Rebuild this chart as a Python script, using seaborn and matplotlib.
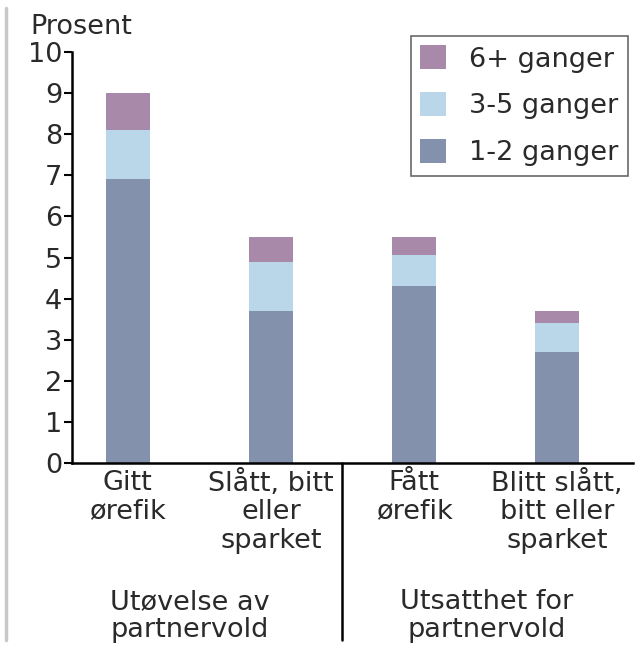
import matplotlib
matplotlib.use("Agg")
import matplotlib.pyplot as plt
from matplotlib.patches import Patch
from matplotlib.lines import Line2D
import seaborn as sns
import pandas as pd

categories = ["Gitt\nørefik", "Slått, bitt\neller\nsparket", "Fått\nørefik", "Blitt slått,\nbitt eller\nsparket"]
v12 = [6.9, 3.7, 4.3, 2.7]
v35 = [1.2, 1.2, 0.75, 0.7]
v6 = [0.9, 0.6, 0.45, 0.3]
series = ["6+ ganger", "3-5 ganger", "1-2 ganger"]
groups = ["Utøvelse av\npartnervold", "Utsatthet for\npartnervold"]
ylabel = "Prosent"

c12, c35, c6 = "#8491ac", "#b9d7e8", "#a889a9"
txt = "#2a2a2a"
fs = 19.5

sns.set_theme(style="white")
plt.rcParams["font.family"] = ["DejaVu Sans"]

df = pd.DataFrame({"cat": categories, "a": v12, "b": v35, "c": v6})
df["t2"] = df["a"] + df["b"]
df["t3"] = df["t2"] + df["c"]

fig = plt.figure(figsize=(6.36, 6.48), dpi=100)
ax = fig.add_axes([72 / 636, 185 / 648, 561 / 636, 411 / 648])

for col, c in [("t3", c6), ("t2", c35), ("a", c12)]:
    sns.barplot(data=df, x="cat", y=col, color=c, width=0.31, ax=ax,
                saturation=1, edgecolor="none", linewidth=0)

ax.set_ylim(0, 10)
ax.set_xlim(-0.39, 3.53)
ax.set_yticks(range(0, 11))
ax.set_xlabel("")
ax.set_ylabel("")
for s in ["top", "right"]:
    ax.spines[s].set_visible(False)
for s in ["left", "bottom"]:
    ax.spines[s].set_color("black")
    ax.spines[s].set_linewidth(1.8)
ax.tick_params(axis="y", length=6, width=1.5, color="black", labelsize=fs,
               pad=1, left=True, labelcolor=txt)
ax.tick_params(axis="x", length=0, labelsize=fs, pad=5, labelcolor=txt)
for lab in ax.get_xticklabels():
    lab.set_linespacing(1.12)

ax.text(-0.075, 1.045, ylabel, transform=ax.transAxes, fontsize=fs,
        color=txt, ha="left", va="baseline")

trans = ax.get_xaxis_transform()
ax.text(0.43, -0.307, groups[0], transform=trans, ha="center", va="top",
        fontsize=fs, color=txt, linespacing=1.1)
ax.text(2.51, -0.307, groups[1], transform=trans, ha="center", va="top",
        fontsize=fs, color=txt, linespacing=1.1)
ax.add_line(Line2D([1.5, 1.5], [0, -0.43], transform=trans, color="black",
                   linewidth=1.8, clip_on=False))

handles = [Patch(facecolor=c6, edgecolor="none"),
           Patch(facecolor=c35, edgecolor="none"),
           Patch(facecolor=c12, edgecolor="none")]
leg = ax.legend(handles, series, loc="upper right", bbox_to_anchor=(0.991, 1.039),
                fontsize=fs, frameon=True, fancybox=False, handlelength=0.96,
                handleheight=0.96, handletextpad=0.85, labelspacing=0.73,
                borderpad=0.35, borderaxespad=0)
leg.get_frame().set_edgecolor("#444444")
leg.get_frame().set_linewidth(1.2)
for t in leg.get_texts():
    t.set_color(txt)

fig.add_artist(Line2D([6 / 636, 6 / 636], [8 / 648, 640 / 648], color="#c8c8c8",
                      linewidth=2.5))

fig.savefig("out.png", dpi=100)
